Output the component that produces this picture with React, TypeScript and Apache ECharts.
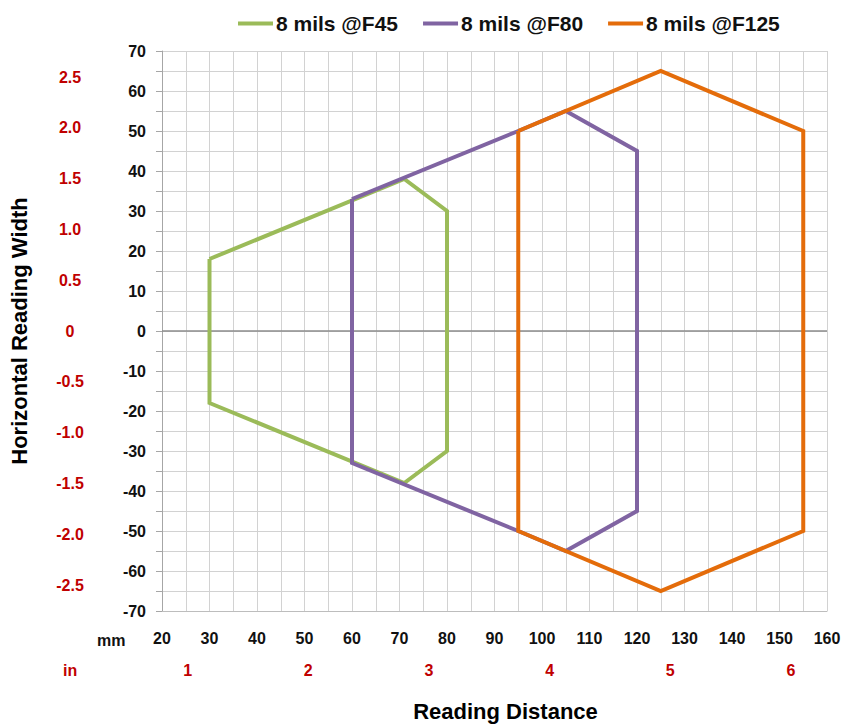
import React, { useEffect, useRef } from "react";
import * as echarts from "echarts";

const seriesNames = ["8 mils @F45", "8 mils @F80", "8 mils @F125"];
const seriesColors = ["#9bbb59", "#8064a2", "#e46c0a"];

const f45: [number, number][] = [
  [30, 18], [71, 38], [80, 30], [80, -30], [71, -38], [30, -18], [30, 18],
];
const f80: [number, number][] = [
  [60, 33], [95, 50], [105, 55], [120, 45], [120, -45], [105, -55], [95, -50], [60, -33], [60, 33],
];
const f125: [number, number][] = [
  [95, 50], [125, 65], [155, 50], [155, -50], [125, -65], [95, -50], [95, 50],
];

const mmTicks = [20, 30, 40, 50, 60, 70, 80, 90, 100, 110, 120, 130, 140, 150, 160];
const inchXTicks = [1, 2, 3, 4, 5, 6];
const yMmTicks = [-70, -60, -50, -40, -30, -20, -10, 0, 10, 20, 30, 40, 50, 60, 70];
const yInchTicks = [-2.5, -2.0, -1.5, -1.0, -0.5, 0, 0.5, 1.0, 1.5, 2.0, 2.5];

const MM_PER_INCH = 25.4;
const X_MIN = 20, X_MAX = 160, Y_MIN = -70, Y_MAX = 70;

const FONT = "'Liberation Sans', Arial, sans-serif";
const RED = "#c00000";

export default function App() {
  const ref = useRef<HTMLDivElement>(null);
  useEffect(() => {
    if (!ref.current) return;
    const chart = echarts.init(ref.current, null, { renderer: "svg" });
    const datasets = [f45, f80, f125];
    chart.setOption({
      animation: false,
      textStyle: { fontFamily: FONT },
      legend: {
        left: 233,
        top: 8,
        icon: "rect",
        itemWidth: 35,
        itemHeight: 4,
        itemGap: 25,
        textStyle: { fontSize: 21, fontWeight: "bold", color: "#111", fontFamily: FONT, padding: [0, 0, 0, -2] },
        data: seriesNames,
      },
      grid: { left: 162, right: 20, top: 51, bottom: 113, containLabel: false },
      xAxis: [
        {
          type: "value",
          min: X_MIN,
          max: X_MAX,
          interval: 5,
          axisLine: { onZero: false, lineStyle: { color: "#bdbdbd" } },
          axisTick: { show: false },
          axisLabel: {
            customValues: mmTicks,
            margin: 19,
            fontSize: 16,
            fontWeight: "bold",
            color: "#111",
            fontFamily: FONT,
          },
          splitLine: { show: true, lineStyle: { color: "#d2d2d2", width: 1 } },
        },
        {
          type: "value",
          position: "bottom",
          min: X_MIN / MM_PER_INCH,
          max: X_MAX / MM_PER_INCH,
          axisLine: { show: false, onZero: false },
          axisTick: { show: false },
          splitLine: { show: false },
          axisLabel: {
            customValues: inchXTicks,
            margin: 51,
            fontSize: 16,
            fontWeight: "bold",
            color: RED,
            fontFamily: FONT,
          },
          name: "Reading Distance",
          nameLocation: "middle",
          nameGap: 89,
          nameTextStyle: { fontSize: 22, fontWeight: "bold", color: "#000", fontFamily: FONT, padding: [0, 0, 0, 22] },
        },
      ],
      yAxis: [
        {
          type: "value",
          min: Y_MIN,
          max: Y_MAX,
          interval: 5,
          axisLine: { show: true, onZero: false, lineStyle: { color: "#a6a6a6" } },
          axisTick: { show: true, length: 6, lineStyle: { color: "#a6a6a6" } },
          axisLabel: {
            customValues: yMmTicks,
            margin: 16,
            fontSize: 16,
            fontWeight: "bold",
            color: "#111",
            fontFamily: FONT,
          },
          splitLine: { show: true, lineStyle: { color: "#d2d2d2", width: 1 } },
          name: "Horizontal Reading Width",
          nameLocation: "middle",
          nameRotate: 90,
          nameGap: 132,
          nameTextStyle: { fontSize: 22, fontWeight: "bold", color: "#000", fontFamily: FONT },
        },
        {
          type: "value",
          position: "left",
          min: Y_MIN / MM_PER_INCH,
          max: Y_MAX / MM_PER_INCH,
          axisLine: { show: false, onZero: false },
          axisTick: { show: false },
          splitLine: { show: false },
          axisLabel: {
            customValues: yInchTicks,
            margin: 92,
            align: "center",
            fontSize: 16,
            fontWeight: "bold",
            color: RED,
            fontFamily: FONT,
            formatter: (v: number) => (Math.abs(v) < 1e-9 ? "0" : v.toFixed(1)),
          },
        },
      ],
      graphic: [
        {
          type: "text",
          left: 97,
          top: 632,
          style: { text: "mm", fontSize: 16, fontWeight: "bold", fill: "#111", fontFamily: FONT },
        },
        {
          type: "text",
          left: 63,
          top: 662,
          style: { text: "in", fontSize: 16, fontWeight: "bold", fill: RED, fontFamily: FONT },
        },
      ],
      series: datasets.map((d, i) => ({
        name: seriesNames[i],
        type: "line",
        xAxisIndex: 0,
        yAxisIndex: 0,
        data: d,
        symbol: "none",
        color: seriesColors[i],
        lineStyle: { width: 4, color: seriesColors[i], join: "miter" },
        z: 3 + i,
        markLine:
          i === 0
            ? {
                silent: true,
                symbol: "none",
                label: { show: false },
                lineStyle: { color: "#8c8c8c", width: 1.5, type: "solid" },
                data: [{ yAxis: 0 }],
                z: 1,
              }
            : undefined,
      })),
    });
    return () => chart.dispose();
  }, []);
  return <div ref={ref} style={{ position: "absolute", left: 0, top: 0, width: 847, height: 727 }} />;
}
